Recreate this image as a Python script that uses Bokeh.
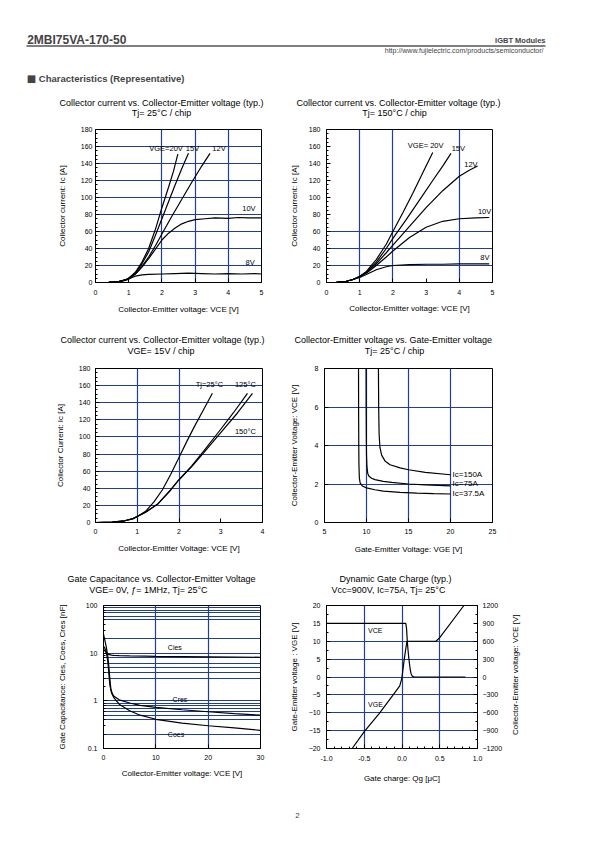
import math
from bokeh.plotting import figure
from bokeh.models import (Range1d, LinearAxis, FixedTicker, SingleIntervalTicker,
                          Label, PrintfTickFormatter)
from bokeh.layouts import column, row
from bokeh.embed import file_html
from bokeh.resources import INLINE

FONT = "Liberation Sans"
BLUE = "#1f3f93"

# ---------------- data ----------------
# Chart 1: Collector current vs. VCE, Tj = 25 C
c1_vge20_x = [0, 0.4, 0.7, 0.9, 1.0, 1.2, 1.4, 1.6, 1.8, 2.0, 2.2, 2.35, 2.48]
c1_vge20_y = [0, 0.2, 1, 3, 5, 12, 24, 40, 62, 88, 112, 131, 151]
c1_vge15_x = [0, 0.4, 0.7, 0.9, 1.0, 1.2, 1.4, 1.6, 1.8, 2.0, 2.2, 2.4, 2.6, 2.8]
c1_vge15_y = [0, 0.2, 1, 3, 5, 11, 22, 36, 55, 75, 95, 115, 134, 152]
c1_vge12_x = [0, 0.4, 0.7, 0.9, 1.0, 1.2, 1.4, 1.6, 1.8, 2.0, 2.3, 2.6, 2.9, 3.2, 3.45]
c1_vge12_y = [0, 0.2, 1, 3, 5, 10, 19, 30, 43, 57, 78, 98, 118, 137, 152]
c1_vge10_x = [0, 0.4, 0.7, 0.9, 1.0, 1.2, 1.4, 1.6, 1.8, 2.0, 2.2, 2.4, 2.6, 2.8, 3.0, 3.3, 3.6, 4.0, 4.3, 4.6, 5.0]
c1_vge10_y = [0, 0.2, 1, 3, 5, 10, 18, 28, 39, 50, 58, 64, 69, 72, 74, 75, 76, 75.5, 76.5, 76, 76]
c1_vge8_x = [0, 0.4, 0.7, 0.9, 1.0, 1.1, 1.2, 1.4, 1.6, 2.0, 2.4, 2.8, 3.2, 3.6, 4.0, 4.4, 4.8, 5.0]
c1_vge8_y = [0, 0.2, 1, 2.5, 4, 6, 7.5, 9, 9.5, 10, 10.5, 11, 10.5, 10, 10.5, 10, 10.5, 10]
c1_labels = ["VGE=20V", "15V", "12V", "10V", "8V"]
c1_label_x = [1.62, 2.72, 3.52, 4.42, 4.52]
c1_label_y = [158, 158, 158, 87, 23]

# Chart 2: Collector current vs. VCE, Tj = 150 C
c2_vge20_x = [0, 0.3, 0.6, 0.8, 1.0, 1.2, 1.5, 1.8, 2.0, 2.3, 2.6, 2.9, 3.2]
c2_vge20_y = [0, 0.3, 1.5, 3.5, 7, 13, 27, 45, 60, 82, 105, 129, 153]
c2_vge15_x = [0, 0.3, 0.6, 0.8, 1.0, 1.2, 1.5, 1.8, 2.0, 2.4, 2.8, 3.2, 3.5, 3.75]
c2_vge15_y = [0, 0.3, 1.5, 3.5, 7, 12, 24, 40, 52, 74, 97, 120, 137, 152]
c2_vge12_x = [0, 0.3, 0.6, 0.8, 1.0, 1.2, 1.5, 1.8, 2.0, 2.5, 3.0, 3.5, 4.0, 4.3, 4.55]
c2_vge12_y = [0, 0.3, 1.5, 3.5, 7, 12, 22, 35, 44, 66, 88, 108, 125, 132, 137]
c2_vge10_x = [0, 0.3, 0.6, 0.8, 1.0, 1.2, 1.5, 1.8, 2.0, 2.5, 3.0, 3.5, 4.0, 4.5, 4.9]
c2_vge10_y = [0, 0.3, 1.5, 3.5, 7, 11, 20, 30, 37, 53, 65, 72, 75, 76, 76.5]
c2_vge8_x = [0, 0.3, 0.6, 0.8, 1.0, 1.2, 1.5, 1.8, 2.0, 2.5, 3.0, 3.5, 4.0, 4.5, 4.9]
c2_vge8_y = [0, 0.3, 1.5, 3.5, 6, 9.5, 15, 18.5, 20, 21, 21.5, 21.5, 22, 22, 22]
c2_labels = ["VGE= 20V", "15V", "12V", "10V", "8V"]
c2_label_x = [2.45, 3.77, 4.15, 4.56, 4.63]
c2_label_y = [161, 158, 139, 83, 29]

# Chart 3: Collector current vs. VCE, VGE = 15 V
c3_tj25_x = [0, 0.4, 0.7, 0.9, 1.0, 1.2, 1.4, 1.6, 1.8, 2.0, 2.2, 2.4, 2.6, 2.8]
c3_tj25_y = [0, 0.5, 2, 4.5, 7, 13, 24, 38, 56, 76, 96, 115, 133, 151]
c3_tj125_x = [0, 0.4, 0.7, 0.9, 1.0, 1.2, 1.5, 1.8, 2.0, 2.3, 2.6, 3.0, 3.3, 3.64]
c3_tj125_y = [0, 0.5, 2, 4.5, 7, 12, 22, 38, 50, 66, 84, 109, 128, 151]
c3_tj150_x = [0, 0.4, 0.7, 0.9, 1.0, 1.2, 1.5, 1.8, 2.0, 2.3, 2.6, 3.0, 3.4, 3.76]
c3_tj150_y = [0, 0.5, 2, 4.5, 7, 12, 22, 38, 50, 65, 82, 105, 128, 151]
c3_labels = ["Tj=25°C", "125°C", "150°C"]
c3_label_x = [2.4, 3.34, 3.34]
c3_label_y = [161, 161, 106]

# Chart 4: VCE vs. VGE, Tj = 25 C
c4_ic375_x = [9.05, 9.06, 9.08, 9.1, 9.15, 9.25, 9.5, 10, 11, 12, 14, 16, 18, 20]
c4_ic375_y = [8, 6, 4, 3, 2.3, 2.05, 1.9, 1.8, 1.7, 1.63, 1.57, 1.53, 1.5, 1.48]
c4_ic75_x = [9.95, 9.96, 9.98, 10.0, 10.05, 10.15, 10.3, 10.6, 11, 12, 13, 15, 17, 20]
c4_ic75_y = [8, 6, 4.5, 3.5, 2.9, 2.55, 2.4, 2.3, 2.23, 2.14, 2.08, 2.0, 1.95, 1.9]
c4_ic150_x = [11.42, 11.45, 11.5, 11.6, 11.8, 12.2, 12.8, 14, 15, 17, 20]
c4_ic150_y = [8, 6, 4.6, 3.9, 3.5, 3.2, 3.0, 2.84, 2.74, 2.6, 2.48]
c4_labels = ["Ic=150A", "Ic=75A", "Ic=37.5A"]
c4_label_x = [20.25, 20.25, 20.25]
c4_label_y = [2.5, 2.02, 1.5]

# Chart 5: Gate capacitance vs. VCE (log scale)
c5_cies_x = [0, 0.3, 0.6, 1.0, 1.5, 2, 3, 5, 8, 10, 15, 20, 25, 30]
c5_cies_y = [12, 11, 10, 9.4, 9.1, 9.0, 8.9, 8.8, 8.7, 8.6, 8.5, 8.4, 8.3, 8.2]
c5_cres_x = [0, 0.2, 0.5, 0.8, 1.0, 1.2, 1.4, 1.7, 2, 3, 5, 7, 10, 15, 20, 25, 30]
c5_cres_y = [25, 20, 14, 9, 5.5, 3, 1.8, 1.4, 1.25, 1.05, 0.9, 0.8, 0.73, 0.65, 0.59, 0.54, 0.5]
c5_coes_x = [0, 0.2, 0.5, 0.8, 1.0, 1.2, 1.5, 2, 3, 5, 7, 10, 15, 20, 25, 30]
c5_coes_y = [14, 13, 11, 7, 4, 2.2, 1.5, 1.15, 0.85, 0.62, 0.5, 0.41, 0.34, 0.3, 0.27, 0.24]
c5_labels = ["Cies", "Cres", "Coes"]
c5_label_x = [12.3, 13.2, 12.3]
c5_label_y = [13.3, 1.09, 0.2]

# Chart 6: Dynamic gate charge
c6_vge_x = [-0.66, -0.5, -0.3, -0.1, -0.03, -0.01, 0.0, 0.03, 0.065, 0.45, 0.5, 0.82]
c6_vge_y = [-20, -15.3, -10.2, -4.5, -2.5, -1, 0, 5, 10, 10, 11, 20]
c6_vce_x = [-1.0, 0.05, 0.06, 0.07, 0.08, 0.09, 0.1, 0.11, 0.12, 0.135, 0.16, 0.84]
c6_vce_y = [900, 900, 820, 600, 450, 320, 210, 120, 55, 15, 0, 0]
c6_labels = ["VCE", "VGE"]
c6_label_x = [-0.45, -0.45]
c6_label_y = [13, -7.8]

# tick / grid values
c1_grid_x = [2, 3, 4]
c1_grid_y = [20, 40, 60, 80, 100, 120, 140, 160]
c2_grid_x = [1, 2, 4]
c2_grid_y = [20, 40, 60]
c3_grid_x = [1, 2]
c3_grid_y = [20, 40, 60, 80, 100, 120, 140, 160]
c4_grid_x = [10, 15, 20]
c4_grid_y = [2, 4, 6]
c5_ticks_y = [0.1, 1, 10, 100]
c5_minor_y = [0.2, 0.3, 0.4, 0.5, 0.6, 0.7, 0.8, 0.9, 2, 3, 4, 5, 6, 7, 8, 9, 20, 30, 40, 50, 60, 70, 80, 90]
c5_grid_x = [10, 20]
c5_grid_y = [0.2, 0.4, 0.5, 0.6, 0.7, 0.8, 0.9, 1, 3, 4, 5, 6, 8, 10, 20, 50, 60, 70, 80, 90]
c6_grid_x = [-0.5, 0, 0.5]
c6_grid_y = [-15, -10, -5, 0, 5, 10]

# titles
T1 = "Collector current vs. Collector-Emitter voltage (typ.)"
titles_row1 = [T1, "Tj= 25°C / chip", T1, "Tj= 150°C / chip"]
titles_row2 = [T1, "VGE= 15V / chip", "Collector-Emitter voltage  vs. Gate-Emitter voltage", "Tj= 25°C / chip"]
titles_row3 = ["Gate Capacitance vs. Collector-Emitter Voltage", "VGE= 0V, ƒ= 1MHz, Tj= 25°C",
               "Dynamic Gate Charge (typ.)", "Vcc=900V, Ic=75A, Tj= 25°C"]

# ---------------- layout geometry (page px) ----------------
PW = 594
LW = 286
RX0 = 286
RW = PW - LW
HDR = (0, 88)
STRIP1 = (88, 32)
ROW1 = (120, 206)
STRIP2 = (326, 34)
ROW2 = (360, 202)
STRIP3 = (562, 36)
ROW3 = (598, 194)
FTR = (792, 46)


def base_fig(col_x0, W, rowspec, frame, xr, yr, y_type="linear"):
    row_y0, H = rowspec
    fx0, fy0, fx1, fy1 = frame
    ml = fx0 - col_x0
    mr = W - ml - (fx1 - fx0)
    mt = fy0 - row_y0
    mb = H - mt - (fy1 - fy0)
    p = figure(width=W, height=H, x_range=xr, y_range=yr, y_axis_type=y_type,
               output_backend="svg", toolbar_location=None,
               min_border_left=ml, min_border_right=mr,
               min_border_top=mt, min_border_bottom=mb)
    p.outline_line_color = "black"
    p.outline_line_width = 1
    p.outline_line_alpha = 1
    p.background_fill_color = "white"
    p.border_fill_color = "white"
    for g in p.grid:
        g.grid_line_color = BLUE
        g.grid_line_width = 1.2
    return p


def style_axis(ax, label, tick_standoff, label_standoff, minor=True):
    ax.axis_label = label
    ax.axis_label_text_font = FONT
    ax.axis_label_text_font_size = "8px"
    ax.axis_label_text_font_style = "normal"
    ax.axis_label_text_color = "black"
    ax.axis_label_standoff = label_standoff
    ax.major_label_text_font = FONT
    ax.major_label_text_font_size = "7px"
    ax.major_label_text_color = "black"
    ax.major_label_standoff = tick_standoff
    ax.axis_line_color = "black"
    ax.major_tick_in = 4
    ax.major_tick_out = 0
    ax.major_tick_line_color = "black"
    ax.minor_tick_in = 2
    ax.minor_tick_out = 0
    ax.minor_tick_line_color = "black" if minor else None


def add_curve_labels(p, texts, xs, ys, size="7.5px"):
    for t, x, y in zip(texts, xs, ys):
        p.add_layout(Label(x=x, y=y, text=t, text_align="left", text_baseline="middle",
                           text_font=FONT, text_font_size=size, text_color="black"))


def lines(p, pairs, **kw):
    for xs, ys in pairs:
        p.line(xs, ys, line_color="black", line_width=1.2, **kw)


def canvas(width, spec):
    top, h = spec
    c = figure(width=width, height=h, x_range=Range1d(0, width), y_range=Range1d(h, 0),
               output_backend="svg", toolbar_location=None, min_border=0)
    c.axis.visible = False
    c.grid.visible = False
    c.outline_line_color = None
    c.background_fill_color = "white"
    c.border_fill_color = "white"
    return c


def title_strip(spec, texts, cxs, cys):
    top, h = spec
    s = canvas(PW, spec)
    for t, cx, cy in zip(texts, cxs, cys):
        s.add_layout(Label(x=cx, y=cy - top, text=t, text_align="center", text_baseline="middle",
                           text_font=FONT, text_font_size="9px", text_color="black"))
    return s


# ---- Chart 1 ----
F1 = (95, 129, 261, 282)
p1 = base_fig(0, LW, ROW1, F1, Range1d(0, 5), Range1d(0, 180))
p1.xgrid.ticker = FixedTicker(ticks=c1_grid_x)
p1.ygrid.ticker = FixedTicker(ticks=c1_grid_y)
p1.xaxis.ticker = SingleIntervalTicker(interval=1, num_minor_ticks=0)
p1.yaxis.ticker = SingleIntervalTicker(interval=20, num_minor_ticks=4)
style_axis(p1.xaxis[0], "Collector-Emitter voltage: VCE [V]", 7, 7, minor=False)
style_axis(p1.yaxis[0], "Collector current: Ic [A]", 3, 11)
lines(p1, [(c1_vge20_x, c1_vge20_y), (c1_vge15_x, c1_vge15_y), (c1_vge12_x, c1_vge12_y),
           (c1_vge10_x, c1_vge10_y), (c1_vge8_x, c1_vge8_y)])
add_curve_labels(p1, c1_labels, c1_label_x, c1_label_y)

# ---- Chart 2 ----
F2 = (325, 129, 492, 282)
p2 = base_fig(RX0, RW, ROW1, F2, Range1d(0, 5), Range1d(0, 180))
p2.xgrid.ticker = FixedTicker(ticks=c2_grid_x)
p2.ygrid.ticker = FixedTicker(ticks=c2_grid_y)
p2.xaxis.ticker = SingleIntervalTicker(interval=1, num_minor_ticks=0)
p2.yaxis.ticker = SingleIntervalTicker(interval=20, num_minor_ticks=4)
style_axis(p2.xaxis[0], "Collector-Emitter voltage: VCE [V]", 7, 6, minor=False)
style_axis(p2.yaxis[0], "Collector current: Ic [A]", 6, 7)
lines(p2, [(c2_vge20_x, c2_vge20_y), (c2_vge15_x, c2_vge15_y), (c2_vge12_x, c2_vge12_y),
           (c2_vge10_x, c2_vge10_y), (c2_vge8_x, c2_vge8_y)])
add_curve_labels(p2, c2_labels, c2_label_x, c2_label_y)

# ---- Chart 3 ----
F3 = (95, 367, 262, 525)
p3 = base_fig(0, LW, ROW2, F3, Range1d(0, 4), Range1d(0, 180))
p3.xgrid.ticker = FixedTicker(ticks=c3_grid_x)
p3.ygrid.ticker = FixedTicker(ticks=c3_grid_y)
p3.xaxis.ticker = SingleIntervalTicker(interval=1, num_minor_ticks=0)
p3.yaxis.ticker = SingleIntervalTicker(interval=20, num_minor_ticks=4)
style_axis(p3.xaxis[0], "Collector-Emitter Voltage: VCE [V]", 6, 7, minor=False)
style_axis(p3.yaxis[0], "Collector Current: Ic [A]", 5, 11)
lines(p3, [(c3_tj25_x, c3_tj25_y), (c3_tj125_x, c3_tj125_y), (c3_tj150_x, c3_tj150_y)])
add_curve_labels(p3, c3_labels, c3_label_x, c3_label_y)

# ---- Chart 4 ----
F4 = (321, 368, 492, 522)
p4 = base_fig(RX0, RW, ROW2, F4, Range1d(5, 25), Range1d(0, 8))
p4.xgrid.ticker = FixedTicker(ticks=c4_grid_x)
p4.ygrid.ticker = FixedTicker(ticks=c4_grid_y)
p4.xaxis.ticker = SingleIntervalTicker(interval=5, num_minor_ticks=0)
p4.yaxis.ticker = SingleIntervalTicker(interval=2, num_minor_ticks=0)
style_axis(p4.xaxis[0], "Gate-Emitter Voltage: VGE [V]", 6, 8, minor=False)
style_axis(p4.yaxis[0], "Collector-Emitter Voltage: VCE [V]", 6, 13, minor=False)
lines(p4, [(c4_ic375_x, c4_ic375_y), (c4_ic75_x, c4_ic75_y), (c4_ic150_x, c4_ic150_y)])
add_curve_labels(p4, c4_labels, c4_label_x, c4_label_y, size="8px")

# ---- Chart 5 ----
F5 = (103, 605, 260, 748)
p5 = base_fig(0, LW, ROW3, F5, Range1d(0, 30), Range1d(0.1, 100), y_type="log")
p5.xgrid.ticker = FixedTicker(ticks=c5_grid_x)
p5.ygrid.ticker = FixedTicker(ticks=c5_grid_y)
p5.xaxis.ticker = SingleIntervalTicker(interval=10, num_minor_ticks=0)
p5.yaxis.ticker = FixedTicker(ticks=c5_ticks_y, minor_ticks=c5_minor_y)
p5.yaxis.major_label_overrides = {0.1: "0.1", 1: "1", 10: "10", 100: "100"}
style_axis(p5.xaxis[0], "Collector-Emitter voltage: VCE [V]", 6, 6, minor=False)
style_axis(p5.yaxis[0], "Gate Capacitance: Cies, Coes, Cres [nF]", 6, 16)
lines(p5, [(c5_cies_x, c5_cies_y), (c5_cres_x, c5_cres_y), (c5_coes_x, c5_coes_y)])
add_curve_labels(p5, c5_labels, c5_label_x, c5_label_y, size="7px")

# ---- Chart 6 ----
F6 = (322, 605, 479, 749)
W6 = 219
p6 = base_fig(RX0, W6, ROW3, F6, Range1d(-1, 1), Range1d(-20, 20))
p6.extra_y_ranges = {"vce": Range1d(-1200, 1200)}
p6.xgrid.ticker = FixedTicker(ticks=c6_grid_x)
p6.ygrid.ticker = FixedTicker(ticks=c6_grid_y)
p6.xaxis.ticker = SingleIntervalTicker(interval=0.5, num_minor_ticks=5)
p6.xaxis.formatter = PrintfTickFormatter(format="%.1f")
p6.yaxis.ticker = SingleIntervalTicker(interval=5, num_minor_ticks=2)
style_axis(p6.xaxis[0], "Gate charge: Qg [μC]", 7, 10)
style_axis(p6.yaxis[0], "Gate-Emitter voltage : VGE [V]", 6, 7)
rax = LinearAxis(y_range_name="vce", ticker=SingleIntervalTicker(interval=300, num_minor_ticks=2))
style_axis(rax, "", 5, 0)
p6.add_layout(rax, "right")
p6.line(c6_vge_x, c6_vge_y, line_color="black", line_width=1.2)
p6.line(c6_vce_x, c6_vce_y, line_color="black", line_width=1.2, y_range_name="vce")
add_curve_labels(p6, c6_labels, c6_label_x, c6_label_y, size="7px")

# right-axis title of chart 6 (rotated, reading upwards)
rlab = canvas(PW - RX0 - W6, ROW3)
rlab.add_layout(Label(x=514.5 - (RX0 + W6), y=692 - ROW3[0],
                      text="Collector-Emitter voltage: VCE [V]", angle=math.pi / 2,
                      text_align="center", text_baseline="middle",
                      text_font=FONT, text_font_size="8px", text_color="black"))

# ---------------- header, title strips & footer ----------------
hdr = canvas(PW, HDR)
hdr.segment(x0=[26], y0=[45.5], x1=[545], y1=[45.5], line_color="black", line_width=1.2)
hdr.add_layout(Label(x=26.7, y=39.5, text="2MBI75VA-170-50", text_font=FONT, text_font_size="12px",
                     text_font_style="bold", text_baseline="middle", text_align="left"))
hdr.add_layout(Label(x=545, y=40.3, text="IGBT Modules", text_font=FONT, text_font_size="7.5px",
                     text_font_style="bold", text_baseline="middle", text_align="right"))
hdr.add_layout(Label(x=543, y=50, text="http://www.fujielectric.com/products/semiconductor/",
                     text_font=FONT, text_font_size="7px", text_baseline="middle",
                     text_align="right"))
hdr.add_layout(Label(x=26.3, y=77.8, text="■", text_font="DejaVu Sans", text_font_size="10px",
                     text_baseline="middle", text_align="left"))
hdr.add_layout(Label(x=38.3, y=77.8, text="Characteristics (Representative)", text_font=FONT,
                     text_font_size="9.5px", text_font_style="bold", text_baseline="middle",
                     text_align="left"))

s1 = title_strip(STRIP1, titles_row1, [161, 161, 398, 394], [102, 112, 102, 112])
s2 = title_strip(STRIP2, titles_row2, [162, 160.5, 394, 394], [339.3, 350.3, 339.3, 350.3])
s3 = title_strip(STRIP3, titles_row3, [161, 148, 395, 388], [578.3, 589, 578.5, 589])

ftr = canvas(PW, FTR)
ftr.add_layout(Label(x=297, y=815 - FTR[0], text="2", text_font=FONT, text_font_size="8px",
                     text_baseline="middle", text_align="center"))

layout = column(hdr, s1, row(p1, p2), s2, row(p3, p4), s3, row(p5, p6, rlab), ftr)

with open("out.html", "w") as f:
    f.write(file_html(layout, INLINE))
